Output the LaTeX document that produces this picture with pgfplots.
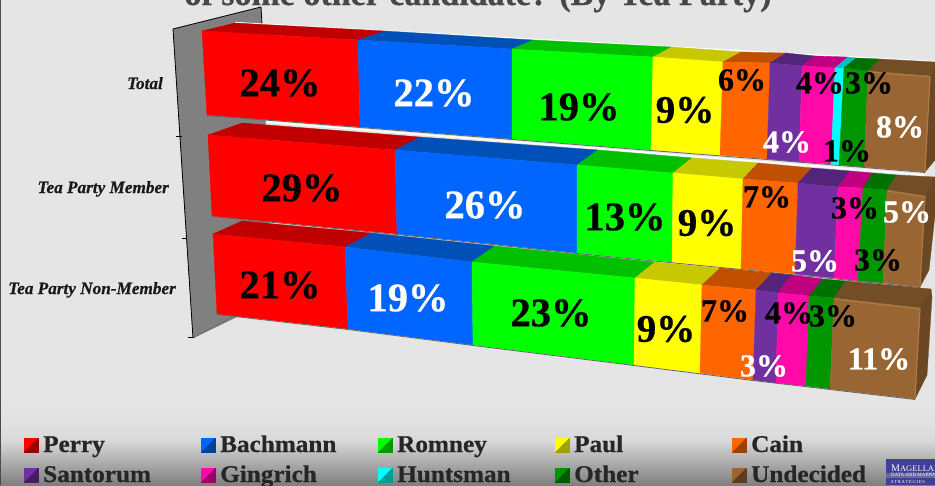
\documentclass[border=0pt]{standalone}
\usepackage{pgfplots}
\pgfplotsset{compat=1.18}
\usepackage{fontspec}
\setmainfont[BoldFeatures={FakeBold=0.6},BoldItalicFeatures={FakeBold=0.5}]{Liberation Serif}

\definecolor{cRed}{HTML}{FF0000}   \definecolor{tRed}{HTML}{C00000}
\definecolor{cBlu}{HTML}{0066FF}   \definecolor{tBlu}{HTML}{0050B8}
\definecolor{cGrn}{HTML}{00FF00}   \definecolor{tGrn}{HTML}{00C000}
\definecolor{cYel}{HTML}{FFFF00}   \definecolor{tYel}{HTML}{C8C800}
\definecolor{cOrg}{HTML}{FF6600}   \definecolor{tOrg}{HTML}{C05000}
\definecolor{cPur}{HTML}{7030A0}   \definecolor{tPur}{HTML}{54247A}
\definecolor{cPnk}{HTML}{FF09A8}   \definecolor{tPnk}{HTML}{C00080}
\definecolor{cCyn}{HTML}{00FFFF}   \definecolor{tCyn}{HTML}{00C0C0}
\definecolor{cDgn}{HTML}{009600}   \definecolor{tDgn}{HTML}{007000}
\definecolor{cBrn}{HTML}{996633}   \definecolor{tBrn}{HTML}{734D26}
\definecolor{sBrn}{HTML}{6B4723}   \definecolor{hBrn}{HTML}{AD7A42}

\pgfdeclareverticalshading{bgfade}{100bp}{
  color(0bp)=(black!50); color(25bp)=(black!50);
  color(38bp)=(black!32); color(50bp)=(black!15);
  color(62bp)=(black!11); color(75bp)=(black!10); color(100bp)=(black!10)}

% one flat face of the picture, in pixel coordinates of the reference
\newcommand{\face}[2]{\addplot[fill=#1,draw=#1,line width=0.3pt,forget plot] coordinates {#2} -- cycle;}
% a value label: centre x, centre y, colour, size, text
\newcommand{\val}[5]{\node[text=#3,font=\fontsize{#4}{#4}\selectfont\bfseries] at (axis cs:#1,#2) {#5};}
% a legend entry: dark colour, bright colour, left x, right x, top y, bottom y, name
\newcommand{\lkey}[7]{%
  \addplot[fill=#1,draw=#1,line width=0.3pt,forget plot] coordinates {(#3,#5)(#4,#5)(#4,#6)(#3,#6)} -- cycle;
  \addplot[fill=#2,draw=none,forget plot] coordinates {(#3,#5)(#4,#5)(#3,#6)} -- cycle;
  \node[anchor=base west,inner sep=0pt,text=black!85,font=\fontsize{24}{24}\selectfont\bfseries,xscale=1.05] at (axis cs:#4+5,#6) {#7};}
\newcommand{\cat}[3]{\node[anchor=base east,inner sep=0pt,text=black!90,font=\fontsize{17.2}{17.2}\selectfont\bfseries\itshape] at (axis cs:#1,#2) {#3};}

\begin{document}
\begin{tikzpicture}
\path[use as bounding box,clip] (0,0) rectangle (935pt,485pt);
\begin{axis}[
  at={(0,0)}, anchor=south west,
  scale only axis, width=935pt, height=485pt,
  xmin=0, xmax=935, ymin=0, ymax=485, y dir=reverse,
  hide axis, clip=false
]
  % background
  \fill[black!10] (axis cs:0,0) rectangle (axis cs:935,396);
  \shade[shading=bgfade] (axis cs:0,395) rectangle (axis cs:935,485);
  \fill[black!70] (axis cs:0,0) rectangle (axis cs:1.3,485);

  % wall
  \face{black!50}{(173,29)(261,7)(272,300)(193,338)}
  \addplot[black,line width=0.8pt,forget plot] coordinates {(173,29)(193,338)};
  \addplot[black,line width=0.8pt,forget plot] coordinates {(173,29)(261,7)(262,24)};
  \addplot[black,line width=0.6pt,forget plot] coordinates {(176,136)(182,136)};
  \addplot[black,line width=0.6pt,forget plot] coordinates {(182,238)(187,238)};
  \addplot[black,line width=0.6pt,forget plot] coordinates {(188,337)(194,337)};
  \addplot[black!60,line width=0.6pt,forget plot] coordinates {(193,338)(232,317)};

  % title, cut off at the top edge
  \node[anchor=base,text=black!72,font=\fontsize{34}{34}\selectfont\bfseries] at (axis cs:478,5) {of some other candidate? (By Tea Party)};

  % white floor lines behind the bars
  \addplot[white,line width=1.2pt,forget plot] coordinates {(235,22.5)(935,61.5)};
  \addplot[white,line width=1.6pt,forget plot] coordinates {(267,122)(925,175)};

  % Total: 24 22 19 9 6 4 4 1 3 8
  \face{tRed}{(202,31)(235,23)(385,31)(358,40)}
  \face{tBlu}{(358,40)(385,31)(533,40)(512,49)}
  \face{tGrn}{(512,49)(533,40)(672,47)(653,57)}
  \face{tYel}{(653,57)(672,47)(741,52)(723,62)}
  \face{tOrg}{(723,62)(741,52)(786,53)(770,63)}
  \face{tPur}{(770,63)(786,53)(815,56)(802,66)}
  \face{tPnk}{(802,66)(815,56)(848,57)(835,68)}
  \face{tCyn}{(835,68)(848,57)(856,58)(844,68)}
  \face{tDgn}{(844,68)(856,58)(880,59)(868,71)}
  \face{tBrn}{(868,71)(880,59)(935,62)(935,65)(930,76)}
  \face{sBrn}{(930,76)(935,65)(935,160)(925,172)}
  \face{cRed}{(202,31)(358,40)(360,127)(207,115)}
  \face{cBlu}{(358,40)(512,49)(512,139)(360,127)}
  \face{cGrn}{(512,49)(653,57)(651,150)(512,139)}
  \face{cYel}{(653,57)(723,62)(720,155)(651,150)}
  \face{cOrg}{(723,62)(770,63)(767,159)(720,155)}
  \face{cPur}{(770,63)(802,66)(799,162)(767,159)}
  \face{cPnk}{(802,66)(835,68)(831,164)(799,162)}
  \face{cCyn}{(835,68)(844,68)(839,165)(831,164)}
  \face{cDgn}{(844,68)(868,71)(864,167)(839,165)}
  \face{cBrn}{(868,71)(930,76)(925,172)(864,167)}
  \addplot[hBrn,line width=1.2pt,forget plot] coordinates {(869,72)(930,77)(925,171)};
  \addplot[black!60,line width=0.8pt,forget plot] coordinates {(207,115.5)(360,127.5)(512,139.5)(651,150.5)(767,159.5)(925,172.5)};

  % Tea Party Member: 29 26 13 9 7 5 3 3 5
  \face{tRed}{(208,135)(242,123)(420,137)(395,150)}
  \face{tBlu}{(395,150)(420,137)(598,150)(577,165)}
  \face{tGrn}{(577,165)(598,150)(692,158)(673,173)}
  \face{tYel}{(673,173)(692,158)(758,163)(743,179)}
  \face{tOrg}{(743,179)(758,163)(812,168)(798,183)}
  \face{tPur}{(798,183)(812,168)(850,171)(838,187)}
  \face{tPnk}{(838,187)(850,171)(873,173)(863,188)}
  \face{tDgn}{(863,188)(873,173)(897,175)(887,190)}
  \face{tBrn}{(887,190)(897,175)(935,177)(935,179)(925,196)}
  \face{sBrn}{(925,196)(935,178)(935,215)(929,270)(920,287)}
  \face{cRed}{(208,135)(395,150)(397,234)(212,216)}
  \face{cBlu}{(395,150)(577,165)(577,253)(397,234)}
  \face{cGrn}{(577,165)(673,173)(672,262)(577,253)}
  \face{cYel}{(673,173)(743,179)(741,269)(672,262)}
  \face{cOrg}{(743,179)(798,183)(795,274)(741,269)}
  \face{cPur}{(798,183)(838,187)(834,278)(795,274)}
  \face{cPnk}{(838,187)(863,188)(858,281)(834,278)}
  \face{cDgn}{(863,188)(887,190)(883,283)(858,281)}
  \face{cBrn}{(887,190)(925,196)(920,287)(883,283)}
  \addplot[hBrn,line width=1.2pt,forget plot] coordinates {(888,191)(925,197)(920,286)};
  \addplot[black!60,line width=0.8pt,forget plot] coordinates {(212,216.5)(397,234.5)(577,253.5)(741,269.5)(920,287.5)};

  % Tea Party Non-Member: 21 19 23 9 7 3 4 3 11
  \face{tRed}{(213,234)(242,221)(372,233)(345,247)}
  \face{tBlu}{(345,247)(372,233)(495,246)(472,262)}
  \face{tGrn}{(472,262)(495,246)(655,262)(635,278)}
  \face{tYel}{(635,278)(655,262)(720,268)(702,285)}
  \face{tOrg}{(702,285)(720,268)(772,273)(756,290)}
  \face{tPur}{(756,290)(772,273)(792,275)(778,293)}
  \face{tPnk}{(778,293)(792,275)(823,279)(809,296)}
  \face{tDgn}{(809,296)(823,279)(846,281)(834,298)}
  \face{tBrn}{(834,298)(846,281)(931,289)(920,308)}
  \face{sBrn}{(920,308)(931,289)(932,297)(927,375)(915,399)}
  \face{cRed}{(213,234)(345,247)(348,329)(217,314)}
  \face{cBlu}{(345,247)(472,262)(473,345)(348,329)}
  \face{cGrn}{(472,262)(635,278)(634,365)(473,345)}
  \face{cYel}{(635,278)(702,285)(700,373)(634,365)}
  \face{cOrg}{(702,285)(756,290)(753,380)(700,373)}
  \face{cPur}{(756,290)(778,293)(776,383)(753,380)}
  \face{cPnk}{(778,293)(809,296)(806,386)(776,383)}
  \face{cDgn}{(809,296)(834,298)(830,389)(806,386)}
  \face{cBrn}{(834,298)(920,308)(915,399)(830,389)}
  \addplot[hBrn,line width=1.2pt,forget plot] coordinates {(835,299)(920,309)(915,398)};
  \addplot[black!60,line width=0.8pt,forget plot] coordinates {(217,314.5)(348,329.5)(473,345.5)(634,365.5)(753,380.5)(915,399.5)};

  % value labels
  \val{280}{83}{black}{40.5}{24\%}
  \val{434}{93}{white}{40.5}{22\%}
  \val{579}{107}{black}{40.5}{19\%}
  \val{685}{110}{black}{39}{9\%}
  \val{742}{80}{black}{32}{6\%}
  \val{787}{142}{white}{32}{4\%}
  \val{820}{83}{black}{32}{4\%}
  \val{847}{151}{black}{32}{1\%}
  \val{869}{83}{black}{32}{3\%}
  \val{900}{127}{white}{32}{8\%}

  \val{302}{188}{black}{40.5}{29\%}
  \val{485}{205}{white}{40.5}{26\%}
  \val{625}{217}{black}{40.5}{13\%}
  \val{707}{223}{black}{39}{9\%}
  \val{767}{197}{black}{32}{7\%}
  \val{815}{261}{white}{32}{5\%}
  \val{855}{208}{black}{32}{3\%}
  \val{878}{260}{black}{32}{3\%}
  \val{907}{212}{white}{32}{5\%}

  \val{280}{285}{black}{40.5}{21\%}
  \val{408}{298}{white}{40.5}{19\%}
  \val{551}{313}{black}{40.5}{23\%}
  \val{666}{329}{black}{39}{9\%}
  \val{725}{311}{black}{32}{7\%}
  \val{764}{366}{white}{32}{3\%}
  \val{789}{313}{black}{32}{4\%}
  \val{833}{316}{black}{32}{3\%}
  \val{879}{359}{white}{32}{11\%}

  % category labels
  \cat{163}{89}{Total}
  \cat{169}{193}{Tea Party Member}
  \cat{176}{294}{Tea Party Non-Member}

  % legend
  \lkey{tRed!80!black}{cRed}{24}{38}{438}{452}{Perry}
  \lkey{tBlu!80!black}{cBlu}{201}{215}{438}{452}{Bachmann}
  \lkey{tGrn!80!black}{cGrn}{378}{392}{438}{452}{Romney}
  \lkey{tYel!80!black}{cYel}{555}{569}{438}{452}{Paul}
  \lkey{tOrg!80!black}{cOrg}{732}{746}{438}{452}{Cain}
  \lkey{tPur!80!black}{cPur}{24}{38}{468}{482}{Santorum}
  \lkey{tPnk!80!black}{cPnk}{201}{215}{468}{482}{Gingrich}
  \lkey{tCyn!80!black}{cCyn}{378}{392}{468}{482}{Huntsman}
  \lkey{tDgn!80!black}{cDgn}{555}{569}{468}{482}{Other}
  \lkey{tBrn!80!black}{cBrn}{732}{746}{468}{482}{Undecided}

  % logo in the corner
  \fill[blue!45!black!75] (axis cs:886,459) rectangle (axis cs:935,485);
  \fill[blue!30!white!60!black] (axis cs:886,473) rectangle (axis cs:935,477.5);
  \node[anchor=base west,text=white,inner sep=0pt] at (axis cs:891,471) {\fontsize{10}{10}\selectfont M\fontsize{8.5}{10}\selectfont AGELLAN};
  \node[anchor=base west,text=white,font=\fontsize{5}{5}\selectfont,inner sep=0pt] at (axis cs:891,476.5) {DATA AND MAPPING};
  \node[anchor=base west,text=white,font=\fontsize{4.5}{4.5}\selectfont,inner sep=0pt] at (axis cs:891,483.5) {S\,T\,R\,A\,T\,E\,G\,I\,E\,S};
\end{axis}
\end{tikzpicture}
\end{document}
